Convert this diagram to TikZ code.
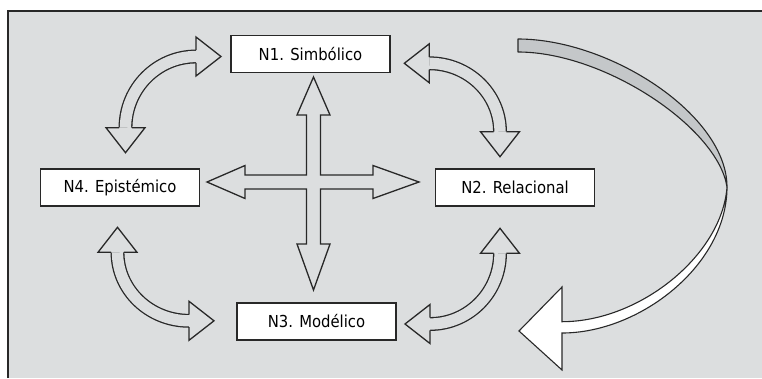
\documentclass[tikz,border=0pt]{standalone}
\usepackage{fontspec}
\setmainfont{DejaVu Sans Condensed}
\usepackage{tikz}
\usetikzlibrary{calc}
\definecolor{fondo}{RGB}{220,222,223}
\definecolor{sombra}{RGB}{196,199,201}
\definecolor{linea}{RGB}{40,40,40}

\tikzset{
  nivel/.style={draw=linea, line width=1.5pt, fill=white, minimum width=159pt,
    minimum height=37pt, inner sep=0pt, font=\fontsize{16.5}{19}\selectfont},
  flecha/.style={draw=linea, line width=1.3pt, line cap=square},
  cuerpo/.style={draw=linea, line width=1.3pt, double=fondo, double distance=11.3pt},
}
% medio cuerpo, media punta, largo de punta
\newcommand{\medc}{6.3}
\newcommand{\medp}{19.5}
\newcommand{\largp}{25}
\newcommand{\punta}[3]{%
  \filldraw[flecha, fill=fondo]
    ($(#1)+({-(#3)*\medc},{(#2)*\medc})$) --
    ($(#1)+({-(#3)*\medp},{(#2)*\medp})$) --
    ($(#1)+({(#2)*\largp},{(#3)*\largp})$) --
    ($(#1)+({(#3)*\medp},{-(#2)*\medp})$) --
    ($(#1)+({(#3)*\medc},{-(#2)*\medc})$);}

\begin{document}
\begin{tikzpicture}[x=1pt, y=-1pt]
  \useasboundingbox (0,0) rectangle (762,378);
  \fill[fondo] (8,11) rectangle (762,378);
  \draw[linea, line width=2pt] (8,378) -- (8,11) -- (762,11);

  \node[nivel] (n1) at (310.5,54) {N1. Simbólico};
  \node[nivel] (n4) at (120,187.5) {N4. Epistémico};
  \node[nivel] (n2) at (515,187.5) {N2. Relacional};
  \node[nivel] (n3) at (316.5,321.5) {N3. Modélico};

  % cruz central
  \filldraw[flecha, fill=fondo, line join=miter]
    (313.5,77) -- (330,115) -- (320.5,115) -- (320.5,175) -- (373,175) -- (373,165.5)
    -- (419,182) -- (373,198.5) -- (373,189) -- (320.5,189) -- (320.5,244) -- (330,244)
    -- (313.5,290) -- (297,244) -- (306.5,244) -- (306.5,189) -- (245,189) -- (245,198.5)
    -- (207,182) -- (245,165.5) -- (245,175) -- (306.5,175) -- (306.5,115) -- (297,115) -- cycle;

  % flechas curvas
  \coordinate (a1) at (125.5,127.7); \coordinate (a2) at (196,56.5);
  \coordinate (b1) at (429.3,63.3);  \coordinate (b2) at (500,131.7);
  \coordinate (c1) at (117.5,252.3); \coordinate (c2) at (189,320.8);
  \coordinate (d1) at (500,253.3);   \coordinate (d2) at (430,324);
  \draw[cuerpo] (a1) .. controls +(0,-39.3) and +(-38.9,0) .. (a2);
  \draw[cuerpo] (b1) .. controls +(39,0) and +(0,-37.8) .. (b2);
  \draw[cuerpo] (c1) .. controls +(0,37.8) and +(-39.5,0) .. (c2);
  \draw[cuerpo] (d1) .. controls +(0,39) and +(38.7,0) .. (d2);
  \punta{a1}{0}{1}  \punta{a2}{1}{0}
  \punta{b1}{-1}{0} \punta{b2}{0}{1}
  \punta{c1}{0}{-1} \punta{c2}{1}{0}
  \punta{d1}{0}{-1} \punta{d2}{-1}{0}

  % flecha grande
  \filldraw[draw=linea, line width=1.1pt, fill=sombra, line join=round]
    (518,39) .. controls (610,39) and (727,115) .. (727,187)
    .. controls (718,128) and (605,52) .. (518,52) -- cycle;
  \filldraw[draw=linea, line width=1.1pt, fill=white, line join=miter]
    (727,187) .. controls (727,265) and (640,333) .. (562,333)
    -- (562,370) -- (519,331) -- (562,287) -- (562,321.7)
    .. controls (640,321.7) and (722,255) .. (727,187) -- cycle;
\end{tikzpicture}
\end{document}
